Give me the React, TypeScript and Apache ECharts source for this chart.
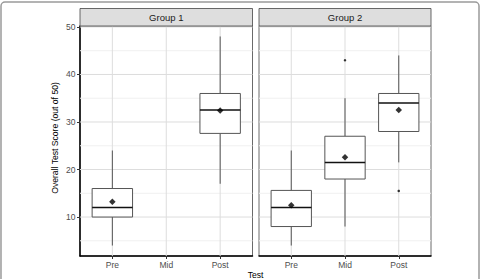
import React, { useEffect, useRef } from "react";
import * as echarts from "echarts";

// Test occasions on the x axis and facet titles
const tests = ["Pre", "Mid", "Post"];
const groups = ["Group 1", "Group 2"];

// Box statistics per test: [position, lower whisker, Q1, median, Q3, upper whisker]
const group1Boxes = [
  [1, 4, 10, 12, 16, 24],
  [3, 17, 27.6, 32.5, 36, 48],
];
const group2Boxes = [
  [1, 4, 8, 12, 15.6, 24],
  [2, 8, 18, 21.5, 27, 35],
  [3, 21.5, 28, 34, 36, 44],
];

// Means (diamonds) and outliers (dots): [position, score]
const group1Means = [
  [1, 13.2],
  [3, 32.4],
];
const group2Means = [
  [1, 12.5],
  [2, 22.6],
  [3, 32.5],
];
const group1Outliers: number[][] = [];
const group2Outliers = [
  [2, 43],
  [3, 15.5],
];

// Axis ticks
const yMajor = [10, 20, 30, 40, 50];
const yMinor = [5, 15, 25, 35, 45];
const xTicks = [1, 2, 3];

const FONT = "'Liberation Sans', Arial, Helvetica, sans-serif";
const BOX_HALF = 0.375;
const Y_MIN = 1.8;
const Y_MAX = 50.2;

const PANEL_TOP = 26;
const PANEL_H = 230;
const PANELS = [
  { left: 80, width: 172.5 },
  { left: 259, width: 172 },
];
const STRIP_H = 17.5;

function hLines(values: number[], gridIndex: number, color: string, z: number) {
  return {
    type: "custom",
    xAxisIndex: gridIndex,
    yAxisIndex: gridIndex,
    silent: true,
    z,
    data: values.map((v) => [v]),
    renderItem: (params: any, api: any) => {
      const cs = params.coordSys;
      const y = api.coord([1, api.value(0)])[1];
      return {
        type: "line",
        shape: { x1: cs.x, y1: y, x2: cs.x + cs.width, y2: y },
        style: { stroke: color, lineWidth: 1 },
      };
    },
  };
}

function vLines(values: number[], gridIndex: number, color: string, z: number) {
  return {
    type: "custom",
    xAxisIndex: gridIndex,
    yAxisIndex: gridIndex,
    silent: true,
    z,
    data: values.map((v) => [v]),
    renderItem: (params: any, api: any) => {
      const cs = params.coordSys;
      const x = api.coord([api.value(0), 10])[0];
      return {
        type: "line",
        shape: { x1: x, y1: cs.y, x2: x, y2: cs.y + cs.height },
        style: { stroke: color, lineWidth: 1 },
      };
    },
  };
}

function boxSeries(data: number[][], gridIndex: number) {
  return {
    type: "custom",
    xAxisIndex: gridIndex,
    yAxisIndex: gridIndex,
    z: 5,
    data,
    encode: { x: 0, y: [1, 2, 3, 4, 5] },
    renderItem: (_params: any, api: any) => {
      const x = api.value(0);
      const lo = api.coord([x, api.value(1)]);
      const q1 = api.coord([x, api.value(2)]);
      const med = api.coord([x, api.value(3)]);
      const q3 = api.coord([x, api.value(4)]);
      const hi = api.coord([x, api.value(5)]);
      const tl = api.coord([x - BOX_HALF, api.value(4)]);
      const br = api.coord([x + BOX_HALF, api.value(2)]);
      const stroke = "#555555";
      return {
        type: "group",
        children: [
          {
            type: "line",
            shape: { x1: lo[0], y1: lo[1], x2: q1[0], y2: q1[1] },
            style: { stroke, lineWidth: 1 },
          },
          {
            type: "line",
            shape: { x1: q3[0], y1: q3[1], x2: hi[0], y2: hi[1] },
            style: { stroke, lineWidth: 1 },
          },
          {
            type: "rect",
            shape: { x: tl[0], y: tl[1], width: br[0] - tl[0], height: br[1] - tl[1] },
            style: { fill: "#ffffff", stroke, lineWidth: 1 },
          },
          {
            type: "line",
            shape: { x1: tl[0], y1: med[1], x2: br[0], y2: med[1] },
            style: { stroke: "#111111", lineWidth: 1.5 },
          },
        ],
      };
    },
  };
}

function scatter(data: number[][], gridIndex: number, symbol: string, size: number) {
  return {
    type: "scatter",
    xAxisIndex: gridIndex,
    yAxisIndex: gridIndex,
    z: 6,
    symbol,
    symbolSize: size,
    itemStyle: { color: "#000000" },
    data,
  };
}

export default function App() {
  const ref = useRef<HTMLDivElement>(null);

  useEffect(() => {
    if (!ref.current) return;
    const chart = echarts.init(ref.current, undefined, { renderer: "svg" });

    const grids = PANELS.map((p) => ({
      left: p.left,
      top: PANEL_TOP,
      width: p.width,
      height: PANEL_H,
      show: true,
      backgroundColor: "#ffffff",
      borderColor: "#444444",
      borderWidth: 0.8,
    }));

    const xAxes = PANELS.map((_p, i) => ({
      type: "value",
      gridIndex: i,
      min: 0.4,
      max: 3.6,
      axisLine: { show: true, onZero: false, lineStyle: { color: "#000000", width: 1.5 } },
      axisTick: {
        show: true,
        customValues: xTicks,
        length: 3,
        lineStyle: { color: "#333333", width: 1 },
      },
      axisLabel: {
        customValues: xTicks,
        formatter: (v: number) => tests[Math.round(v) - 1] ?? "",
        fontSize: 8.5,
        fontFamily: FONT,
        color: "#4d4d4d",
        margin: 4,
      },
      splitLine: { show: false },
    }));

    const yAxes = PANELS.map((_p, i) => ({
      type: "value",
      gridIndex: i,
      min: Y_MIN,
      max: Y_MAX,
      axisLine: {
        show: i === 0,
        onZero: false,
        lineStyle: { color: "#000000", width: 1.5 },
      },
      axisTick: {
        show: i === 0,
        customValues: yMajor,
        length: 3,
        lineStyle: { color: "#333333", width: 1 },
      },
      axisLabel: {
        show: i === 0,
        customValues: yMajor,
        fontSize: 8.5,
        fontFamily: FONT,
        color: "#4d4d4d",
        margin: 4.5,
      },
      splitLine: { show: false },
    }));

    const series: any[] = [];
    [0, 1].forEach((g) => {
      series.push(hLines(yMinor, g, "#f0f0f0", 1));
      series.push(hLines(yMajor, g, "#dddddd", 2));
      series.push(vLines(xTicks, g, "#dddddd", 2));
    });
    series.push(boxSeries(group1Boxes, 0));
    series.push(boxSeries(group2Boxes, 1));
    series.push(scatter(group1Means, 0, "diamond", 6.5));
    series.push(scatter(group2Means, 1, "diamond", 6.5));
    series.push(scatter(group1Outliers, 0, "circle", 2.5));
    series.push(scatter(group2Outliers, 1, "circle", 2.5));

    const strips: any[] = [];
    PANELS.forEach((p, i) => {
      strips.push({
        type: "rect",
        shape: { x: p.left, y: PANEL_TOP - STRIP_H, width: p.width, height: STRIP_H },
        style: { fill: "#dedede", stroke: "#444444", lineWidth: 0.8 },
        z: 10,
      });
      strips.push({
        type: "text",
        x: p.left + p.width / 2,
        y: PANEL_TOP - STRIP_H / 2,
        style: {
          text: groups[i],
          textAlign: "center",
          textVerticalAlign: "middle",
          fontSize: 9.5,
          fontFamily: FONT,
          fill: "#1a1a1a",
        },
        z: 11,
      });
    });

    const plotCenterX =
      (PANELS[0].left + PANELS[1].left + PANELS[1].width) / 2;

    chart.setOption({
      animation: false,
      grid: grids,
      xAxis: xAxes,
      yAxis: yAxes,
      series,
      graphic: [
        {
          type: "rect",
          shape: { x: 1, y: 2, width: 478, height: 300, r: 4 },
          style: { fill: "none", stroke: "#9a9a9a", lineWidth: 1.5 },
          z: 0,
        },
        ...strips,
        {
          type: "text",
          x: 55,
          y: 138,
          rotation: Math.PI / 2,
          style: {
            text: "Overall Test Score (out of 50)",
            textAlign: "center",
            textVerticalAlign: "middle",
            fontSize: 8.6,
            fontFamily: FONT,
            fill: "#000000",
          },
        },
        {
          type: "text",
          x: plotCenterX,
          y: 270,
          style: {
            text: "Test",
            textAlign: "center",
            textVerticalAlign: "top",
            fontSize: 8.6,
            fontFamily: FONT,
            fill: "#000000",
          },
        },
      ],
    });

    return () => {
      chart.dispose();
    };
  }, []);

  return (
    <div
      ref={ref}
      style={{ position: "absolute", left: 0, top: 0, width: 481, height: 279, background: "#ffffff" }}
    />
  );
}
